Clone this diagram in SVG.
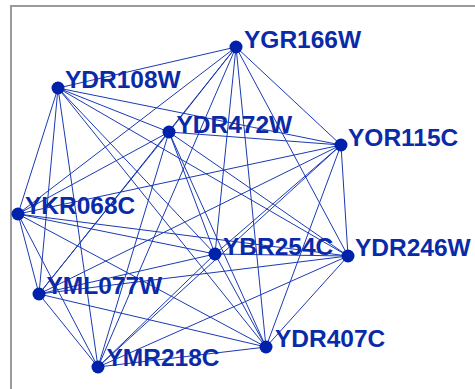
<svg xmlns="http://www.w3.org/2000/svg" width="475" height="389" viewBox="0 0 475 389">
<style>
.frame{fill:#fff;stroke:#9a9a9a;stroke-width:2}
.e{stroke:#1a3ab4;stroke-width:1;fill:none}
.n{fill:#0022aa}
.t{font-family:"Liberation Sans",Arial,sans-serif;font-weight:bold;font-size:24.5px;fill:#0a2aa8}
</style>
<rect x="0" y="0" width="475" height="389" fill="#fff"/>
<rect class="frame" x="11" y="6" width="500" height="500"/>
<g id="connectors">
<line class="e" x1="236" y1="47" x2="58" y2="88"/>
<line class="e" x1="236" y1="47" x2="169" y2="132"/>
<line class="e" x1="236" y1="47" x2="341" y2="145"/>
<line class="e" x1="236" y1="47" x2="18" y2="214"/>
<line class="e" x1="236" y1="47" x2="215" y2="254"/>
<line class="e" x1="236" y1="47" x2="348" y2="256"/>
<line class="e" x1="236" y1="47" x2="39" y2="294"/>
<line class="e" x1="236" y1="47" x2="98" y2="367"/>
<line class="e" x1="236" y1="47" x2="266" y2="347"/>
<line class="e" x1="58" y1="88" x2="169" y2="132"/>
<line class="e" x1="58" y1="88" x2="341" y2="145"/>
<line class="e" x1="58" y1="88" x2="18" y2="214"/>
<line class="e" x1="58" y1="88" x2="215" y2="254"/>
<line class="e" x1="58" y1="88" x2="348" y2="256"/>
<line class="e" x1="58" y1="88" x2="39" y2="294"/>
<line class="e" x1="58" y1="88" x2="98" y2="367"/>
<line class="e" x1="58" y1="88" x2="266" y2="347"/>
<line class="e" x1="169" y1="132" x2="341" y2="145"/>
<line class="e" x1="169" y1="132" x2="18" y2="214"/>
<line class="e" x1="169" y1="132" x2="215" y2="254"/>
<line class="e" x1="169" y1="132" x2="348" y2="256"/>
<line class="e" x1="169" y1="132" x2="39" y2="294"/>
<line class="e" x1="169" y1="132" x2="98" y2="367"/>
<line class="e" x1="169" y1="132" x2="266" y2="347"/>
<line class="e" x1="341" y1="145" x2="18" y2="214"/>
<line class="e" x1="341" y1="145" x2="215" y2="254"/>
<line class="e" x1="341" y1="145" x2="348" y2="256"/>
<line class="e" x1="341" y1="145" x2="39" y2="294"/>
<line class="e" x1="341" y1="145" x2="98" y2="367"/>
<line class="e" x1="341" y1="145" x2="266" y2="347"/>
<line class="e" x1="18" y1="214" x2="215" y2="254"/>
<line class="e" x1="18" y1="214" x2="348" y2="256"/>
<line class="e" x1="18" y1="214" x2="39" y2="294"/>
<line class="e" x1="18" y1="214" x2="98" y2="367"/>
<line class="e" x1="18" y1="214" x2="266" y2="347"/>
<line class="e" x1="215" y1="254" x2="348" y2="256"/>
<line class="e" x1="215" y1="254" x2="39" y2="294"/>
<line class="e" x1="215" y1="254" x2="98" y2="367"/>
<line class="e" x1="215" y1="254" x2="266" y2="347"/>
<line class="e" x1="348" y1="256" x2="39" y2="294"/>
<line class="e" x1="348" y1="256" x2="98" y2="367"/>
<line class="e" x1="348" y1="256" x2="266" y2="347"/>
<line class="e" x1="39" y1="294" x2="98" y2="367"/>
<line class="e" x1="39" y1="294" x2="266" y2="347"/>
<line class="e" x1="98" y1="367" x2="266" y2="347"/>
</g>
<g id="YGR166W"><circle class="n" cx="236" cy="47" r="6.5"/><text class="t" x="244" y="48">YGR166W</text></g>
<g id="YDR108W"><circle class="n" cx="58" cy="88" r="6.5"/><text class="t" x="65" y="88">YDR108W</text></g>
<g id="YDR472W"><circle class="n" cx="169" cy="132" r="6.5"/><text class="t" x="176.5" y="133">YDR472W</text></g>
<g id="YOR115C"><circle class="n" cx="341" cy="145" r="6.5"/><text class="t" x="348" y="145.5">YOR115C</text></g>
<g id="YKR068C"><circle class="n" cx="18" cy="214" r="6.5"/><text class="t" x="25" y="213.5">YKR068C</text></g>
<g id="YBR254C"><circle class="n" cx="215" cy="254" r="6.5"/><text class="t" x="223" y="255">YBR254C</text></g>
<g id="YDR246W"><circle class="n" cx="348" cy="256" r="6.5"/><text class="t" x="355" y="255.5">YDR246W</text></g>
<g id="YML077W"><circle class="n" cx="39" cy="294" r="6.5"/><text class="t" x="46.5" y="293.5">YML077W</text></g>
<g id="YMR218C"><circle class="n" cx="98" cy="367" r="6.5"/><text class="t" x="106.5" y="366">YMR218C</text></g>
<g id="YDR407C"><circle class="n" cx="266" cy="347" r="6.5"/><text class="t" x="275" y="346.5">YDR407C</text></g>
</svg>
